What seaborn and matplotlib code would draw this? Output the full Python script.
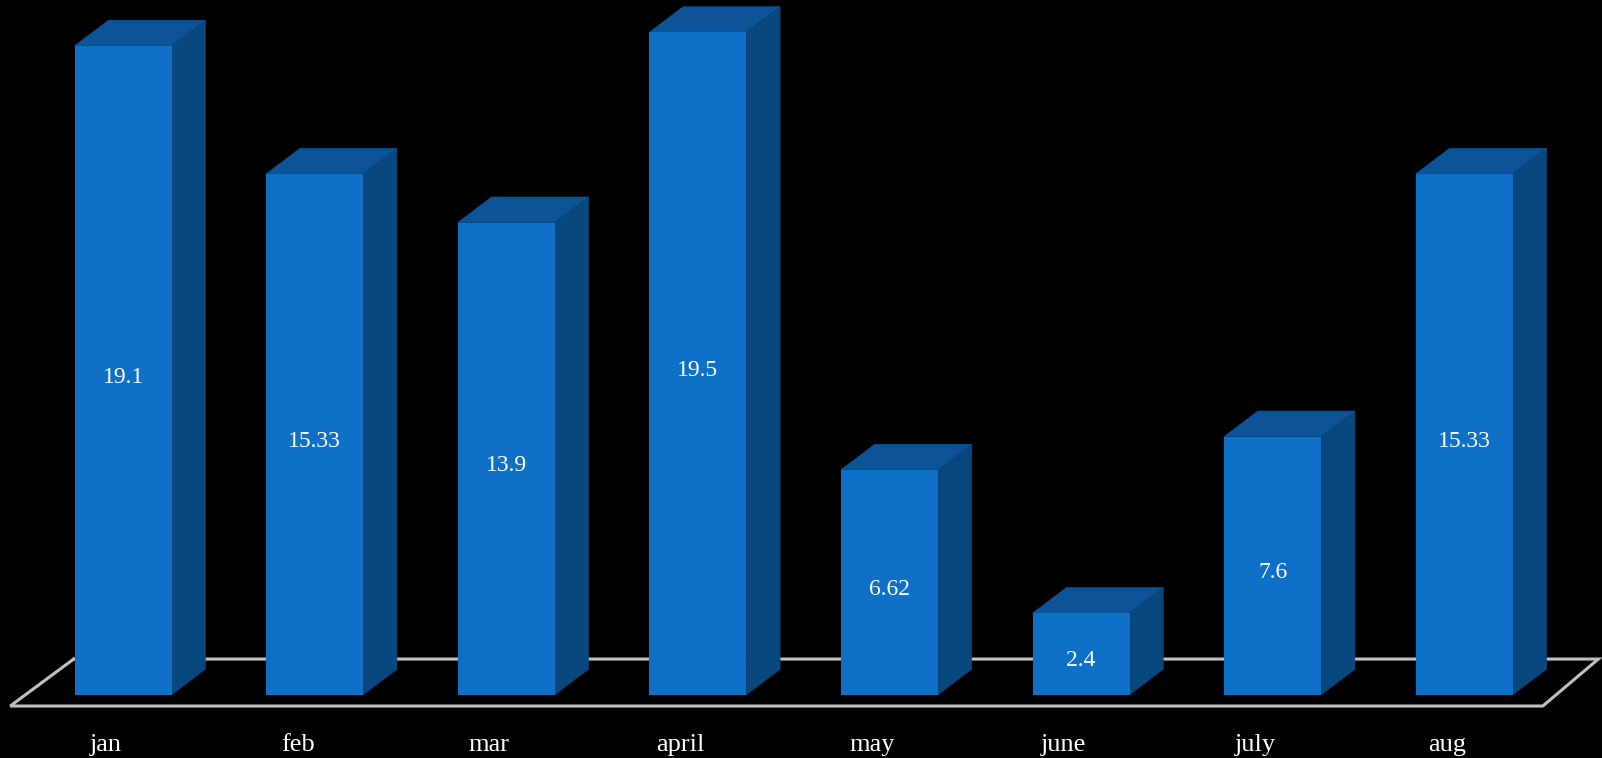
import matplotlib
matplotlib.use("Agg")
import matplotlib.pyplot as plt
from matplotlib.patches import Polygon
import seaborn as sns
import pandas as pd

# ---- data ----
months = ["jan", "feb", "mar", "april", "may", "june", "july", "aug"]
values = [19.1, 15.33, 13.9, 19.5, 6.62, 2.4, 7.6, 15.33]
value_labels = ["19.1", "15.33", "13.9", "19.5", "6.62", "2.4", "7.6", "15.33"]

# ---- style ----
FRONT = "#0F70C7"
TOP = "#0C5397"
SIDE = "#09477F"
FLOOR = "#C0C0C0"
DX, DY = 0.176, 0.75   # depth offset (data units)

sns.set_theme(style="white")
plt.rcParams["font.family"] = ["Liberation Serif", "DejaVu Serif"]

fig = plt.figure(figsize=(16.02, 7.58), dpi=100, facecolor="black")
ax = fig.add_axes([0, 0, 1, 1])
ax.set_facecolor("black")

df = pd.DataFrame({"month": months, "value": values})
sns.barplot(data=df, x="month", y="value", color=FRONT, saturation=1,
            width=0.506, ax=ax, zorder=3, linewidth=0)

ax.set_xlim(-0.6425, 7.719)
ax.set_ylim(-1.863, 20.45)

# floor (drawn behind bars)
floor_front_y, floor_back_y = -0.333, 1.05
fx0, fx1 = -0.589, 7.41
bx0, bx1 = -0.258, 7.70
ax.plot([bx0, fx0, fx1, bx1, bx0], [floor_back_y, floor_front_y, floor_front_y, floor_back_y, floor_back_y],
        color=FLOOR, lw=2.2, zorder=1, solid_joinstyle="miter", clip_on=False)

# 3D faces + value labels
for p, lab in zip(ax.patches, value_labels):
    x0 = p.get_x()
    w = p.get_width()
    y0 = p.get_y()
    h = p.get_height()
    x1 = x0 + w
    y1 = y0 + h
    top = Polygon([(x0, y1), (x1, y1), (x1 + DX, y1 + DY), (x0 + DX, y1 + DY)],
                  closed=True, facecolor=TOP, edgecolor=TOP, lw=0.5, zorder=2.5)
    side = Polygon([(x1, y0), (x1, y1), (x1 + DX, y1 + DY), (x1 + DX, y0 + DY)],
                   closed=True, facecolor=SIDE, edgecolor=SIDE, lw=0.5, zorder=2.5)
    ax.add_patch(top)
    ax.add_patch(side)
    ax.annotate(lab, (x0 + w / 2, y0 + h / 2), xytext=(0, -5), textcoords="offset points",
                ha="center", va="center", color="white", fontsize=17, zorder=5)

# category labels centred on the floor slots
ax.set_xticks([])
ax.set_yticks([])
slot_w = (fx1 - fx0) / len(months)
for i, m in enumerate(months):
    ax.text(fx0 + slot_w * (i + 0.5), -1.47, m, color="white", fontsize=19,
            ha="center", va="center")

for s in ax.spines.values():
    s.set_visible(False)
ax.set_xlabel("")
ax.set_ylabel("")

fig.savefig("out.png", dpi=100, facecolor="black")
